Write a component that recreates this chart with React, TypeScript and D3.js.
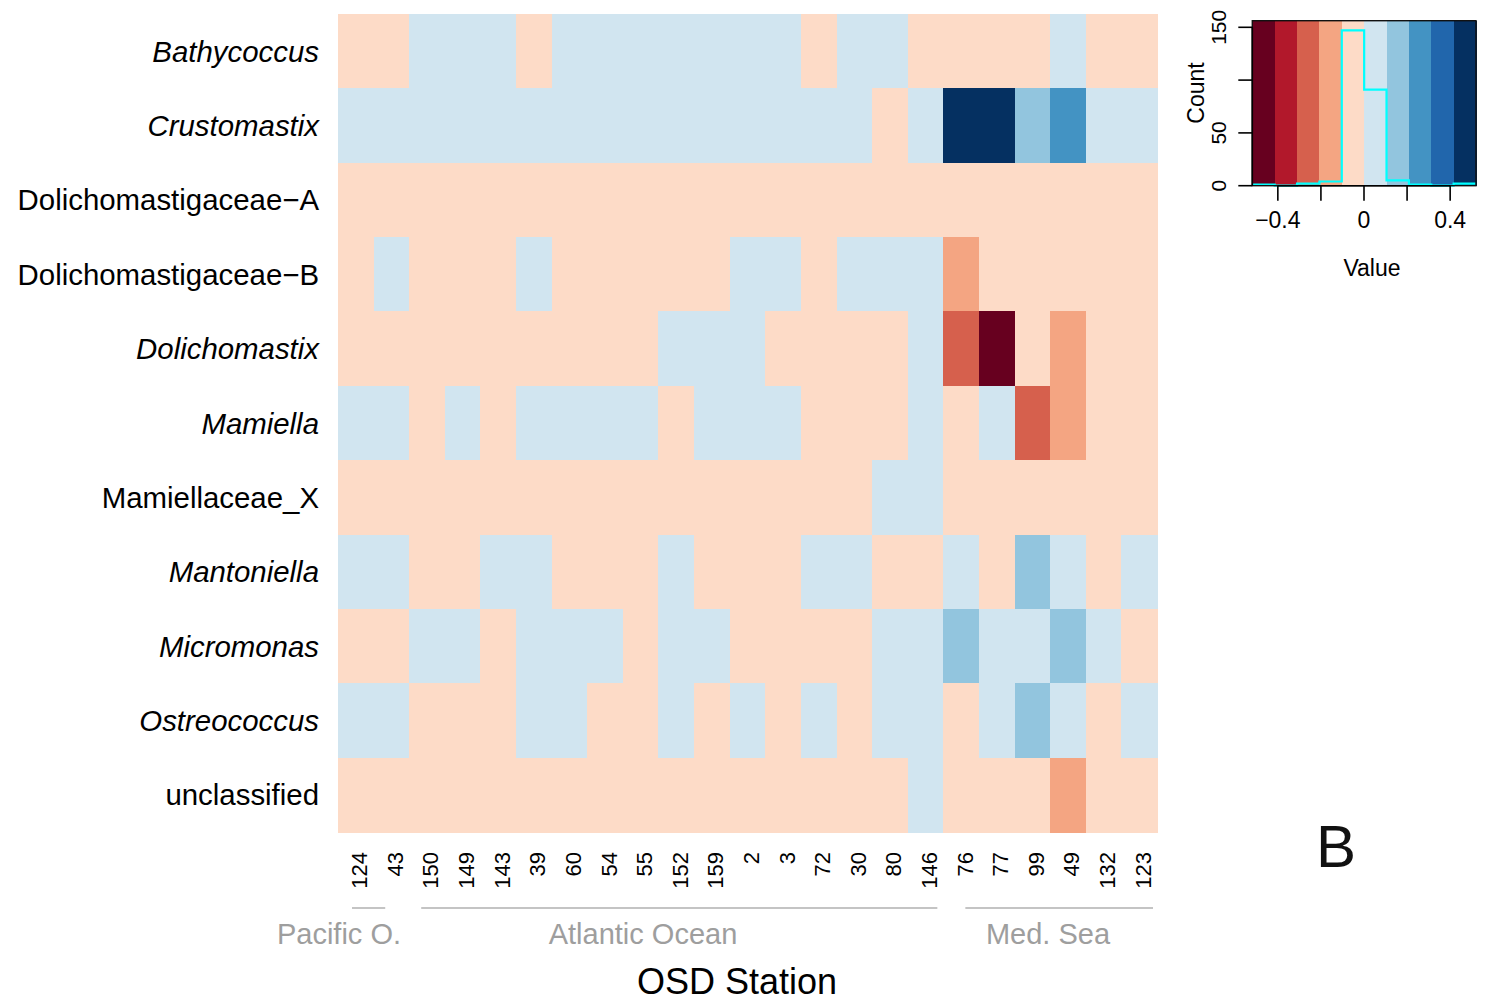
import React from "react";
import * as d3 from "d3";

// ---------- data ----------
const stations = ["124", "43", "150", "149", "143", "39", "60", "54", "55", "152", "159", "2", "3", "72", "30", "80", "146", "76", "77", "99", "49", "132", "123"];
const taxa = ["Bathycoccus", "Crustomastix", "Dolichomastigaceae\u2212A", "Dolichomastigaceae\u2212B", "Dolichomastix", "Mamiella", "Mamiellaceae_X", "Mantoniella", "Micromonas", "Ostreococcus", "unclassified"];
const italicTaxa = [true, true, false, false, true, true, false, true, true, true, false];

const bathycoccus = [-0.05, -0.05, 0.05, 0.05, 0.05, -0.05, 0.05, 0.05, 0.05, 0.05, 0.05, 0.05, 0.05, -0.05, 0.05, 0.05, -0.05, -0.05, -0.05, -0.05, 0.05, -0.05, -0.05];
const crustomastix = [0.05, 0.05, 0.05, 0.05, 0.05, 0.05, 0.05, 0.05, 0.05, 0.05, 0.05, 0.05, 0.05, 0.05, 0.05, -0.05, 0.05, 0.45, 0.45, 0.15, 0.25, 0.05, 0.05];
const dolichomastigaceaeA = [-0.05, -0.05, -0.05, -0.05, -0.05, -0.05, -0.05, -0.05, -0.05, -0.05, -0.05, -0.05, -0.05, -0.05, -0.05, -0.05, -0.05, -0.05, -0.05, -0.05, -0.05, -0.05, -0.05];
const dolichomastigaceaeB = [-0.05, 0.05, -0.05, -0.05, -0.05, 0.05, -0.05, -0.05, -0.05, -0.05, -0.05, 0.05, 0.05, -0.05, 0.05, 0.05, 0.05, -0.15, -0.05, -0.05, -0.05, -0.05, -0.05];
const dolichomastix = [-0.05, -0.05, -0.05, -0.05, -0.05, -0.05, -0.05, -0.05, -0.05, 0.05, 0.05, 0.05, -0.05, -0.05, -0.05, -0.05, 0.05, -0.25, -0.45, -0.05, -0.15, -0.05, -0.05];
const mamiella = [0.05, 0.05, -0.05, 0.05, -0.05, 0.05, 0.05, 0.05, 0.05, -0.05, 0.05, 0.05, 0.05, -0.05, -0.05, -0.05, 0.05, -0.05, 0.05, -0.25, -0.15, -0.05, -0.05];
const mamiellaceaeX = [-0.05, -0.05, -0.05, -0.05, -0.05, -0.05, -0.05, -0.05, -0.05, -0.05, -0.05, -0.05, -0.05, -0.05, -0.05, 0.05, 0.05, -0.05, -0.05, -0.05, -0.05, -0.05, -0.05];
const mantoniella = [0.05, 0.05, -0.05, -0.05, 0.05, 0.05, -0.05, -0.05, -0.05, 0.05, -0.05, -0.05, -0.05, 0.05, 0.05, -0.05, -0.05, 0.05, -0.05, 0.15, 0.05, -0.05, 0.05];
const micromonas = [-0.05, -0.05, 0.05, 0.05, -0.05, 0.05, 0.05, 0.05, -0.05, 0.05, 0.05, -0.05, -0.05, -0.05, -0.05, 0.05, 0.05, 0.15, 0.05, 0.05, 0.15, 0.05, -0.05];
const ostreococcus = [0.05, 0.05, -0.05, -0.05, -0.05, 0.05, 0.05, -0.05, -0.05, 0.05, -0.05, 0.05, -0.05, 0.05, -0.05, 0.05, 0.05, -0.05, 0.05, 0.15, 0.05, -0.05, 0.05];
const unclassified = [-0.05, -0.05, -0.05, -0.05, -0.05, -0.05, -0.05, -0.05, -0.05, -0.05, -0.05, -0.05, -0.05, -0.05, -0.05, -0.05, 0.05, -0.05, -0.05, -0.05, -0.15, -0.05, -0.05];

const matrix = [bathycoccus, crustomastix, dolichomastigaceaeA, dolichomastigaceaeB, dolichomastix, mamiella, mamiellaceaeX, mantoniella, micromonas, ostreococcus, unclassified];

const breaks = [-0.5, -0.4, -0.3, -0.2, -0.1, 0, 0.1, 0.2, 0.3, 0.4, 0.5];
const keyColors = ["#67001f", "#b2182b", "#d6604d", "#f4a582", "#fddbc7", "#d1e5f0", "#92c5de", "#4393c3", "#2166ac", "#053061"];
const keyXTicks = [-0.4, -0.2, 0, 0.2, 0.4];
const keyXLabels = [-0.4, 0, 0.4];
const keyYTicks = [0, 50, 100, 150];
const keyYLabels = [0, 50, 150];

const groupNames = ["Pacific O.", "Atlantic Ocean", "Med. Sea"];
const groupFirst = ["124", "150", "76"];
const groupLast = ["43", "146", "123"];

// ---------- layout ----------
const W = 1492, H = 1001;
const FONT = "'Liberation Sans', Arial, Helvetica, sans-serif";
const heat = { left: 338, right: 1157, top: 14, bottom: 832 };
const key = { left: 1252.3, right: 1476, top: 20.7, bottom: 185.7 };
const groupLineY = 908;
const groupLineInset = [[14, 24], [12, 6], [22, 4]];
const groupLabelX = [339, 643, 1048];

const fmt = (v: number) => (v < 0 ? "\u2212" + String(Math.abs(v)) : String(v));

export default function App() {
  const x = d3.scaleBand<string>().domain(stations).range([heat.left, heat.right]);
  const y = d3.scaleBand<string>().domain(taxa).range([heat.top, heat.bottom]);
  const color = d3.scaleThreshold<number, string>().domain(breaks.slice(1, -1)).range(keyColors);

  // key scales
  const keyBand = d3.scaleBand<number>().domain(d3.range(keyColors.length)).range([key.left, key.right]);
  const keyVal = d3.scaleLinear().domain([-0.5, 0.5]).range([key.left, key.right]);
  const keyTick = d3.scaleLinear().domain([-0.5, 0.5]).range([1256.3, 1471.7]);
  const countY = d3.scaleLinear().domain([0, 156.25]).range([key.bottom, key.top]);

  const allVals = matrix.flat();
  const bins = d3.bin().domain([-0.5, 0.5]).thresholds(breaks.slice(1, -1))(allVals);
  const counts = bins.map((b) => b.length);
  const pts: [number, number][] = breaks.map((b, i) => [b, counts[Math.min(i, counts.length - 1)]]);
  const histPath = d3.line<[number, number]>()
    .x((d) => keyVal(d[0]))
    .y((d) => countY(d[1]))
    .curve(d3.curveStepAfter)(pts) as string;

  const bw = x.bandwidth();

  return (
    <svg width={W} height={H} style={{ position: "absolute", left: 0, top: 0, background: "#fff" }} fontFamily={FONT}>
      <rect x={0} y={0} width={W} height={H} fill="#fff" />
      {/* heatmap cells */}
      <g shapeRendering="crispEdges">
        {matrix.map((row, ri) =>
          row.map((v, ci) => (
            <rect key={ri + "-" + ci} x={x(stations[ci])} y={y(taxa[ri])} width={bw + 0.5} height={y.bandwidth() + 0.5} fill={color(v)} />
          ))
        )}
      </g>
      {/* row labels */}
      {taxa.map((t, i) => (
        <text key={t} x={319} y={(y(t) as number) + y.bandwidth() / 2} dy="0.36em" textAnchor="end" fontSize={29.4} fontStyle={italicTaxa[i] ? "italic" : "normal"} fill="#000">
          {t}
        </text>
      ))}
      {/* column labels */}
      {stations.map((s) => {
        const cx = (x(s) as number) + bw / 2;
        return (
          <text key={s} transform={`translate(${cx},852) rotate(-90)`} dy="0.52em" textAnchor="end" fontSize={22} fill="#000">
            {s}
          </text>
        );
      })}
      {/* group lines & labels */}
      {groupNames.map((g, i) => {
        const x0 = (x(groupFirst[i]) as number) + groupLineInset[i][0];
        const x1 = (x(groupLast[i]) as number) + bw - groupLineInset[i][1];
        return (
          <g key={g}>
            <line x1={x0} x2={x1} y1={groupLineY} y2={groupLineY} stroke="#b0b0b0" strokeWidth={1.5} />
            <text x={groupLabelX[i]} y={944} textAnchor="middle" fontSize={29} fill="#9e9e9e">{g}</text>
          </g>
        );
      })}
      <text x={737} y={994} textAnchor="middle" fontSize={36} fill="#000">OSD Station</text>
      <text x={1336} y={867} textAnchor="middle" fontSize={60} fill="#111">B</text>

      {/* colour key */}
      <g shapeRendering="crispEdges">
        {keyColors.map((c, i) => (
          <rect key={c} x={keyBand(i)} y={key.top} width={keyBand.bandwidth() + 0.5} height={key.bottom - key.top} fill={c} />
        ))}
      </g>
      <path d={histPath} fill="none" stroke="#00ffff" strokeWidth={2.2} />
      <rect x={key.left} y={key.top} width={key.right - key.left} height={key.bottom - key.top} fill="none" stroke="#111" strokeWidth={1.4} />
      {/* key x axis */}
      <line x1={keyTick(keyXTicks[0])} x2={keyTick(keyXTicks[keyXTicks.length - 1])} y1={key.bottom} y2={key.bottom} stroke="#000" strokeWidth={1.6} />
      {keyXTicks.map((t) => (
        <line key={t} x1={keyTick(t)} x2={keyTick(t)} y1={key.bottom} y2={key.bottom + 15} stroke="#000" strokeWidth={1.6} />
      ))}
      {keyXLabels.map((t) => (
        <text key={t} x={keyTick(t)} y={228} textAnchor="middle" fontSize={23} fill="#000">{fmt(t)}</text>
      ))}
      <text x={1372} y={276} textAnchor="middle" fontSize={23} fill="#000">Value</text>
      {/* key y axis */}
      <line x1={key.left} x2={key.left} y1={countY(0)} y2={countY(150)} stroke="#000" strokeWidth={1.6} />
      {keyYTicks.map((t) => (
        <line key={t} x1={key.left - 14} x2={key.left} y1={countY(t)} y2={countY(t)} stroke="#000" strokeWidth={1.6} />
      ))}
      {keyYLabels.map((t) => (
        <text key={t} transform={`translate(1226,${countY(t)}) rotate(-90)`} textAnchor="middle" fontSize={21} fill="#000">{String(t)}</text>
      ))}
      <text transform="translate(1204,93) rotate(-90)" textAnchor="middle" fontSize={23} fill="#000">Count</text>
    </svg>
  );
}
